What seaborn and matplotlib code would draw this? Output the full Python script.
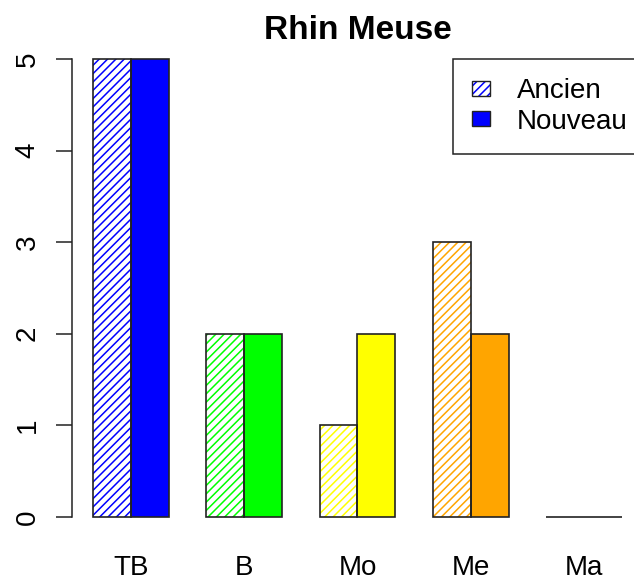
import pandas as pd
import seaborn as sns
import matplotlib as mpl
import matplotlib.pyplot as plt
from matplotlib.patches import Patch, Rectangle

# Data
categories = ["TB", "B", "Mo", "Me", "Ma"]
ancien = [5, 2, 1, 3, 0]
nouveau = [5, 2, 2, 2, 0]
periods = ["Ancien", "Nouveau"]
bar_colors = ["#0000FF", "#00FF00", "#FFFF00", "#FFA500", "#FF0000"]

df = pd.DataFrame({
    "cat": categories * 2,
    "period": [periods[0]] * len(categories) + [periods[1]] * len(categories),
    "val": ancien + nouveau,
})

sns.set_theme(style="white")
plt.rcParams["font.family"] = ["Liberation Sans", "DejaVu Sans"]
plt.rcParams["hatch.linewidth"] = 1.1
plt.rcParams["text.color"] = "black"
plt.rcParams["xtick.color"] = "black"
plt.rcParams["ytick.color"] = "black"

fig = plt.figure(figsize=(6.34, 5.76), dpi=100)
ax = fig.add_axes([0.1133, 0.0707, 0.901, 0.8587])

sns.barplot(data=df, x="cat", y="val", hue="period", order=categories,
            hue_order=periods, width=2 / 3, legend=False, ax=ax,
            errorbar=None, saturation=1)

# Ancien bars: white with coloured hatching, Nouveau: solid colour
for p, c in zip(ax.containers[0], bar_colors):
    p.set_facecolor("white")
    p.set_edgecolor(c)
    p.set_hatch("////")
    p.set_linewidth(0)
for p, c in zip(ax.containers[1], bar_colors):
    p.set_facecolor(c)
    p.set_linewidth(0)
for cont in ax.containers:
    for p in cont:
        ax.add_patch(Rectangle(p.get_xy(), p.get_width(), p.get_height(),
                               fill=False, edgecolor="#222222", lw=1.2, zorder=3))

ax.set_xlim(-0.52, 4.52)
ax.set_ylim(-0.2, 5.2)
ax.set_xlabel("")
ax.set_ylabel("")
ax.set_title("Rhin Meuse", fontsize=24, fontweight="bold", pad=1, color="black")

for s in ["top", "right", "bottom"]:
    ax.spines[s].set_visible(False)
ax.spines["left"].set_bounds(0, 5)
ax.spines["left"].set_color("#222222")
ax.spines["left"].set_linewidth(1.1)

ax.set_yticks(range(6))
ax.tick_params(axis="y", left=True, direction="out", length=11.5, width=1.1,
               color="#222222", labelcolor="black", pad=11, labelsize=20)
for t in ax.get_yticklabels():
    t.set_rotation(90)
    t.set_va("center")
ax.tick_params(axis="x", bottom=False, pad=8, labelsize=20, labelcolor="black")

hatch_handle = (
    Patch(facecolor="white", edgecolor=bar_colors[0], hatch="////", lw=0),
    Patch(fill=False, edgecolor="#222222", lw=1),
)
solid_handle = Patch(facecolor=bar_colors[0], edgecolor="#222222", lw=1)
leg = ax.legend([hatch_handle, solid_handle], periods, loc="upper left",
                bbox_to_anchor=(0.667, 0.963), borderaxespad=0, fontsize=20,
                frameon=True, fancybox=False, framealpha=1, edgecolor="#222222",
                borderpad=0.7, handlelength=0.65, handleheight=0.45,
                handletextpad=0.95, labelspacing=0.15)
leg.get_frame().set_linewidth(1.1)

fig.savefig("out.png", dpi=100)
